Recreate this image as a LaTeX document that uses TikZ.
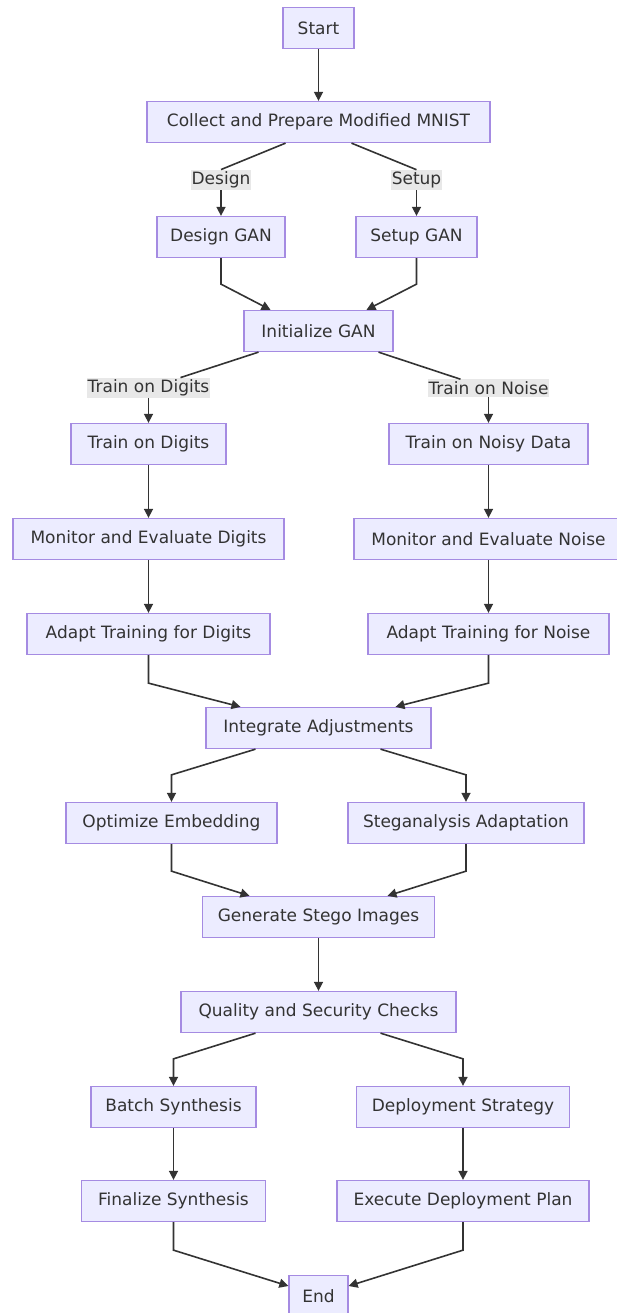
\documentclass[tikz,border=0pt]{standalone}
\usepackage{fontspec}
\setmainfont{DejaVu Sans}
\usetikzlibrary{arrows.meta}
\definecolor{boxfill}{HTML}{ECECFF}
\definecolor{boxline}{HTML}{A58BE2}
\definecolor{edgecol}{HTML}{333333}
\definecolor{lblfill}{HTML}{E8E8E8}
\definecolor{txt}{HTML}{333333}
\begin{document}
\begin{tikzpicture}[x=1pt,y=-1pt,
  box/.style={draw=boxline, fill=boxfill, line width=1.3pt, minimum height=41pt, inner sep=0pt, text=txt, font=\fontsize{17}{20}\selectfont},
  lbl/.style={fill=lblfill, inner xsep=1pt, inner ysep=2pt, text=txt, font=\fontsize{17}{20}\selectfont},
  edge/.style={draw=edgecol, line width=1.6pt, -{Triangle[length=9pt,width=9pt]}},
  seg/.style={draw=edgecol, line width=1.6pt}]
\useasboundingbox (0,0) rectangle (616,1313);
% nodes
\node[box, minimum width=71pt]  (start)   at (318.5,28)  {Start};
\node[box, minimum width=343pt] (collect) at (318.5,122) {Collect and Prepare Modified MNIST};
\node[lbl] (ldesign) at (221,180) {Design};
\node[lbl] (lsetup)  at (416.5,180) {Setup};
\node[box, minimum width=128pt] (design) at (221,237) {Design GAN};
\node[box, minimum width=121pt] (setup)  at (416.5,237) {Setup GAN};
\node[box, minimum width=149pt] (init)   at (318.5,331) {Initialize GAN};
\node[lbl] (ltd) at (148.5,388) {Train on Digits};
\node[lbl] (ltn) at (488.5,388) {Train on Noise};
\node[box, minimum width=155pt] (td)  at (148.5,444) {Train on Digits};
\node[box, minimum width=199pt] (tn)  at (488.5,444) {Train on Noisy Data};
\node[box, minimum width=271pt] (med) at (148.5,539) {Monitor and Evaluate Digits};
\node[box, minimum width=269pt] (men) at (488.5,539) {Monitor and Evaluate Noise};
\node[box, minimum width=243pt] (ad)  at (148.5,634) {Adapt Training for Digits};
\node[box, minimum width=241pt] (an)  at (488.5,634) {Adapt Training for Noise};
\node[box, minimum width=225pt] (int) at (318.5,728) {Integrate Adjustments};
\node[box, minimum width=211pt] (oe)  at (171.5,823) {Optimize Embedding};
\node[box, minimum width=236pt] (sa)  at (466,823)   {Steganalysis Adaptation};
\node[box, minimum width=232pt] (gsi) at (318.5,917) {Generate Stego Images};
\node[box, minimum width=275pt] (qsc) at (318.5,1012) {Quality and Security Checks};
\node[box, minimum width=165pt] (bs)  at (173.5,1107) {Batch Synthesis};
\node[box, minimum width=213pt] (ds)  at (463,1107)  {Deployment Strategy};
\node[box, minimum width=184pt] (fs)  at (173.5,1201) {Finalize Synthesis};
\node[box, minimum width=252pt] (edp) at (463,1201)  {Execute Deployment Plan};
\node[box, minimum width=59pt]  (endn) at (318.5,1296) {End};
% edges
\draw[edge] (start.south) -- (collect.north);
\draw[seg] ([xshift=-33pt]collect.south) -- (ldesign.north);
\draw[edge] (ldesign.south) -- (design.north);
\draw[seg] ([xshift=33pt]collect.south) -- (lsetup.north);
\draw[edge] (lsetup.south) -- (setup.north);
\draw[edge] (design.south) -- ++(0,26) -- ([xshift=-48pt]init.north);
\draw[edge] (setup.south) -- ++(0,26) -- ([xshift=48pt]init.north);
\draw[seg] ([xshift=-60pt]init.south) -- ([xshift=32pt]ltd.north);
\draw[edge] (ltd.south) -- (td.north);
\draw[seg] ([xshift=60pt]init.south) -- ([xshift=-28pt]ltn.north);
\draw[edge] (ltn.south) -- (tn.north);
\draw[edge] (td.south) -- (med.north);
\draw[edge] (tn.south) -- (men.north);
\draw[edge] (med.south) -- (ad.north);
\draw[edge] (men.south) -- (an.north);
\draw[edge] (ad.south) -- ++(0,28) -- ([xshift=-78pt]int.north);
\draw[edge] (an.south) -- ++(0,28) -- ([xshift=77pt]int.north);
\draw[edge] ([xshift=-63pt]int.south) -- ([yshift=27pt]oe.north) -- (oe.north);
\draw[edge] ([xshift=62pt]int.south) -- ([yshift=27pt]sa.north) -- (sa.north);
\draw[edge] (oe.south) -- ++(0,27) -- ([xshift=-69pt]gsi.north);
\draw[edge] (sa.south) -- ++(0,27) -- ([xshift=69pt]gsi.north);
\draw[edge] (gsi.south) -- (qsc.north);
\draw[edge] ([xshift=-63pt]qsc.south) -- ([yshift=27pt]bs.north) -- (bs.north);
\draw[edge] ([xshift=62pt]qsc.south) -- ([yshift=27pt]ds.north) -- (ds.north);
\draw[edge] (bs.south) -- (fs.north);
\draw[edge] (ds.south) -- (edp.north);
\draw[edge] (fs.south) -- ++(0,28) -- ([yshift=10pt]endn.west);
\draw[edge] (edp.south) -- ++(0,28) -- ([yshift=10pt]endn.east);
\end{tikzpicture}
\end{document}
